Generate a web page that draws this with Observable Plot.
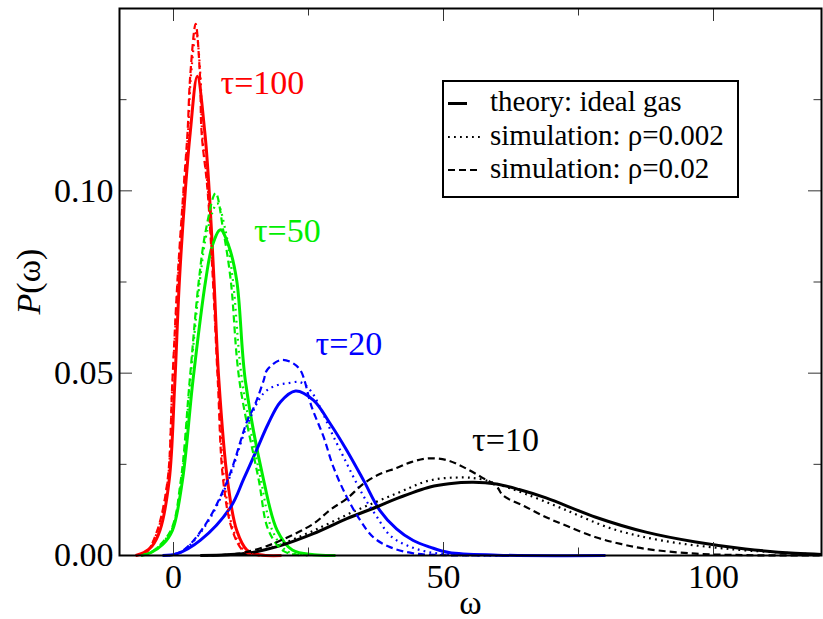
<!DOCTYPE html>
<html><head><meta charset="utf-8">
<script src="https://cdn.jsdelivr.net/npm/d3@7"></script>
<script src="https://cdn.jsdelivr.net/npm/@observablehq/plot@0.6"></script>
<style>html,body{margin:0;padding:0;background:#fff}svg{display:block}</style>
</head><body><div id="chart"></div>
<script>
// ---- data: [omega, P(omega)] ----
const tau100_theory = [[-7,0],[-5.5,0.0008],[-4,0.0025],[-2.5,0.0069],[-0.8,0.0206],[0.2,0.046],[1.1,0.0755],[2.2,0.1003],[3.1,0.116],[4.4,0.1314],[5.8,0.116],[6.6,0.1003],[7.5,0.0755],[8.4,0.048],[10,0.0206],[11.7,0.0069],[13.6,0.0015],[16,0.0002],[20,0]];
const tau100_rho002 = [[-7,0],[-5,0.001],[-3,0.0065],[-1.1,0.02],[-0.2,0.047],[0.8,0.075],[1.9,0.1],[2.7,0.116],[3.2,0.131],[4.2,0.1435],[5.0,0.131],[5.3,0.116],[6.4,0.1],[7.4,0.0755],[8.3,0.048],[9.4,0.0206],[11.1,0.0069],[13.2,0.0012],[16,0]];
const tau100_rho02 = [[-7,0],[-5,0.001],[-3,0.0069],[-1.1,0.0206],[-0.2,0.048],[0.74,0.0755],[1.85,0.1003],[2.6,0.116],[3.1,0.1316],[4.1,0.1458],[4.9,0.1316],[5.2,0.116],[6.3,0.1003],[7.3,0.0755],[8.2,0.048],[9.2,0.0206],[10.9,0.0069],[13,0.0012],[16,0]];

const tau50_theory = [[-6,0],[-4.2,0.0008],[-2,0.003],[-0.2,0.0069],[1.66,0.0206],[3.6,0.048],[5.96,0.0755],[7.2,0.085],[8.7,0.0893],[10.2,0.085],[11.7,0.0755],[13.3,0.048],[16.7,0.0206],[19.2,0.0069],[22,0.0015],[26,0.0002],[30,0]];
const tau50_rho002 = [[-6,0],[-4,0.001],[-0.4,0.0069],[1.45,0.0206],[3.1,0.048],[4.9,0.0755],[6.3,0.0893],[8.1,0.0965],[9.6,0.0893],[11.0,0.0755],[12.7,0.048],[16.2,0.0206],[18.3,0.0069],[21,0.0012],[25,0]];
const tau50_rho02 = [[-6,0],[-4,0.001],[-0.5,0.0069],[1.35,0.0206],[3.0,0.048],[4.7,0.0755],[6.0,0.0893],[7.8,0.0994],[9.2,0.0893],[10.6,0.0755],[12.2,0.048],[15.8,0.0206],[17.6,0.0069],[20.4,0.0012],[24,0]];

const tau20_theory = [[-2,0],[0.7,0.0005],[5,0.0042],[10.6,0.0133],[13,0.021],[15.5,0.0293],[17.5,0.0360],[19.8,0.0421],[22.6,0.0451],[25.9,0.0426],[29,0.0362],[32.1,0.0288],[35.2,0.0206],[38.2,0.0124],[41.3,0.0073],[44.4,0.0041],[47.5,0.0023],[51,0.0008],[60,0.0001],[80,0]];
const tau20_rho002 = [[-2,0],[1.3,0.0008],[5.6,0.0075],[10,0.020],[13.7,0.036],[16.7,0.0445],[19,0.0466],[21,0.0472],[23.5,0.0475],[25.5,0.045],[27.5,0.0395],[29.5,0.033],[31.5,0.027],[33.5,0.021],[35.5,0.0155],[37.5,0.011],[40.1,0.0055],[43.2,0.0028],[47,0.001],[52,0.0002],[60,0]];
const tau20_rho02 = [[-2,0],[1.3,0.0009],[5.6,0.0078],[10,0.0206],[13.7,0.0371],[14.9,0.0407],[16.7,0.048],[17.3,0.0508],[19.8,0.0536],[21.8,0.053],[23.5,0.0508],[25.6,0.0407],[27.8,0.0325],[29.6,0.0243],[32.1,0.016],[34.6,0.0096],[37,0.005],[40.1,0.0023],[44.4,0.0006],[50,0.0001],[60,0]];

const tau10_theory = [[5,0],[10,0.0002],[13.7,0.0006],[17.3,0.0017],[19.8,0.0027],[25.9,0.006],[32.1,0.0101],[37.6,0.0133],[41.3,0.0156],[47.5,0.0188],[51,0.0197],[55.5,0.0201],[59.8,0.0196],[64,0.0181],[69,0.0158],[78.2,0.0105],[87.5,0.0064],[96.7,0.0037],[105.9,0.0018],[115.1,0.0006],[120,0.0003]];
const tau10_rho002 = [[5,0],[13.7,0.0006],[17.3,0.0018],[19.8,0.003],[25.9,0.0068],[33.9,0.0124],[41.3,0.017],[47.5,0.0206],[53.6,0.0214],[57,0.0209],[60,0.0196],[65,0.017],[72.1,0.0128],[81.3,0.0073],[90.5,0.0041],[102.8,0.0018],[115,0.0006],[120,0.0003]];
const tau10_rho02 = [[5,0],[12,0.0005],[16.7,0.0023],[19.8,0.0041],[25.9,0.0087],[29,0.0125],[32.1,0.0156],[35.2,0.0197],[38,0.0222],[41.3,0.024],[44,0.0256],[47,0.0266],[50.5,0.0262],[53.6,0.0243],[57,0.0215],[59.8,0.019],[61,0.0165],[65,0.0135],[69,0.0105],[73,0.008],[78.2,0.005],[83,0.0031],[87.5,0.0018],[96.7,0.0005],[106,0.0001],[120,0]];

const tauNames = ["τ=100", "τ=50", "τ=20", "τ=10"];
const legendLabels = ["theory: ideal gas", "simulation: ρ=0.002", "simulation: ρ=0.02"];
const xMajorTicks = [0, 50, 100];
const xMinorTicks = [25, 75];
const yMajorTicks = [0, 0.05, 0.10];
const yMinorTicks = [0.025, 0.075, 0.125];
const xLabel = "ω";

// ---- styling / layout ----
const tauColors = ["#ff0000", "#00ee00", "#0000ff", "#000000"];
const curveSets = [
  [tau100_theory, tau100_rho002, tau100_rho02],
  [tau50_theory, tau50_rho002, tau50_rho02],
  [tau20_theory, tau20_rho002, tau20_rho02],
  [tau10_theory, tau10_rho002, tau10_rho02]
];
const kinds = ["theory", "rho002", "rho02"];
const rows = [];
curveSets.forEach((set, i) => set.forEach((pts, k) => pts.forEach(([w, p]) =>
  rows.push({w, p, id: i + "-" + k, kind: kinds[k], color: tauColors[i]}))));

// label anchors (data coordinates of the start of each label baseline)
const tauLabelAt = [[8.7, 0.1265], [14.9, 0.0861], [26.3, 0.0549], [55.3, 0.0287]];
const tauLabelRows = tauNames.map((t, i) => ({t, w: tauLabelAt[i][0], p: tauLabelAt[i][1], color: tauColors[i]}));

const W = 823, H = 619;
const mL = 119, mR = 2, mT = 8, mB = 64;
const fw = W - mL - mR, fh = H - mT - mB;
const font = "'Liberation Serif', 'Times New Roman', serif";

const lineStyle = {
  theory: {strokeWidth: 3},
  rho002: {strokeWidth: 2.2, strokeDasharray: "1.8,4.2"},
  rho02: {strokeWidth: 2.2, strokeDasharray: "7,4"}
};

const plot = Plot.plot({
  width: W, height: H,
  marginLeft: mL, marginRight: mR, marginTop: mT, marginBottom: mB,
  style: {fontFamily: font, background: "#fff", color: "#000"},
  x: {domain: [-10, 120]},
  y: {domain: [0, 0.15]},
  color: {type: "identity"},
  marks: [
    ...kinds.map(k => Plot.line(rows.filter(d => d.kind === k), {
      x: "w", y: "p", z: "id", stroke: "color", curve: "catmull-rom",
      strokeLinecap: "butt", ...lineStyle[k]
    })),
    // inward ticks
    Plot.tickX(xMajorTicks, {x: d => d, insetTop: fh - 13, stroke: "#333", strokeWidth: 1}),
    Plot.tickX(xMinorTicks, {x: d => d, insetTop: fh - 7.5, stroke: "#333", strokeWidth: 1}),
    Plot.tickX(xMajorTicks, {x: d => d, insetBottom: fh - 13, stroke: "#333", strokeWidth: 1}),
    Plot.tickX(xMinorTicks, {x: d => d, insetBottom: fh - 7.5, stroke: "#333", strokeWidth: 1}),
    Plot.tickY(yMajorTicks, {y: d => d, insetRight: fw - 13, stroke: "#333", strokeWidth: 1}),
    Plot.tickY(yMinorTicks, {y: d => d, insetRight: fw - 7.5, stroke: "#333", strokeWidth: 1}),
    Plot.tickY(yMajorTicks, {y: d => d, insetLeft: fw - 13, stroke: "#333", strokeWidth: 1}),
    Plot.tickY(yMinorTicks, {y: d => d, insetLeft: fw - 7.5, stroke: "#333", strokeWidth: 1}),
    Plot.axisX({ticks: xMajorTicks, tickSize: 0, tickPadding: 8, fontSize: 34, label: null, tickFormat: d => String(d)}),
    Plot.axisY({ticks: yMajorTicks, tickSize: 0, tickPadding: 6, fontSize: 34, label: null, tickFormat: d3.format(".2f")}),
    Plot.frame({stroke: "#000", strokeWidth: 2}),
    Plot.text(tauLabelRows, {x: "w", y: "p", text: "t", fill: "color", fontSize: 34, textAnchor: "start", lineAnchor: "bottom"}),
    Plot.text([xLabel], {frameAnchor: "bottom", dy: 58, text: d => d, fontSize: 34, lineAnchor: "bottom"})
  ]
});

const svg = d3.select(plot);
// y-axis label with italic P
const yl = svg.append("text")
  .attr("transform", `translate(30,${mT + fh / 2}) rotate(-90)`)
  .attr("text-anchor", "middle").attr("dy", "0.3em")
  .attr("font-family", font).attr("font-size", 34).attr("fill", "#000");
yl.append("tspan").attr("font-style", "italic").text("P");
yl.append("tspan").text("(ω)");

// legend box
const lg = svg.append("g").attr("font-family", font).attr("font-size", 29).attr("text-anchor", "start");
lg.append("rect").attr("x", 443).attr("y", 81).attr("width", 295).attr("height", 116)
  .attr("fill", "#fff").attr("stroke", "#000").attr("stroke-width", 2);
const legendY = [103.5, 137, 170];
const sampleEnd = [467, 480, 480];
kinds.forEach((k, i) => {
  const st = lineStyle[k];
  lg.append("line").attr("x1", 448).attr("x2", sampleEnd[i]).attr("y1", legendY[i]).attr("y2", legendY[i])
    .attr("stroke", "#000").attr("stroke-width", st.strokeWidth)
    .attr("stroke-dasharray", st.strokeDasharray || null);
  lg.append("text").attr("x", 490).attr("y", legendY[i] + 7.5).attr("text-anchor", "start")
    .attr("fill", "#000").text(legendLabels[i]);
});

document.getElementById("chart").appendChild(plot);
</script>
</body></html>
